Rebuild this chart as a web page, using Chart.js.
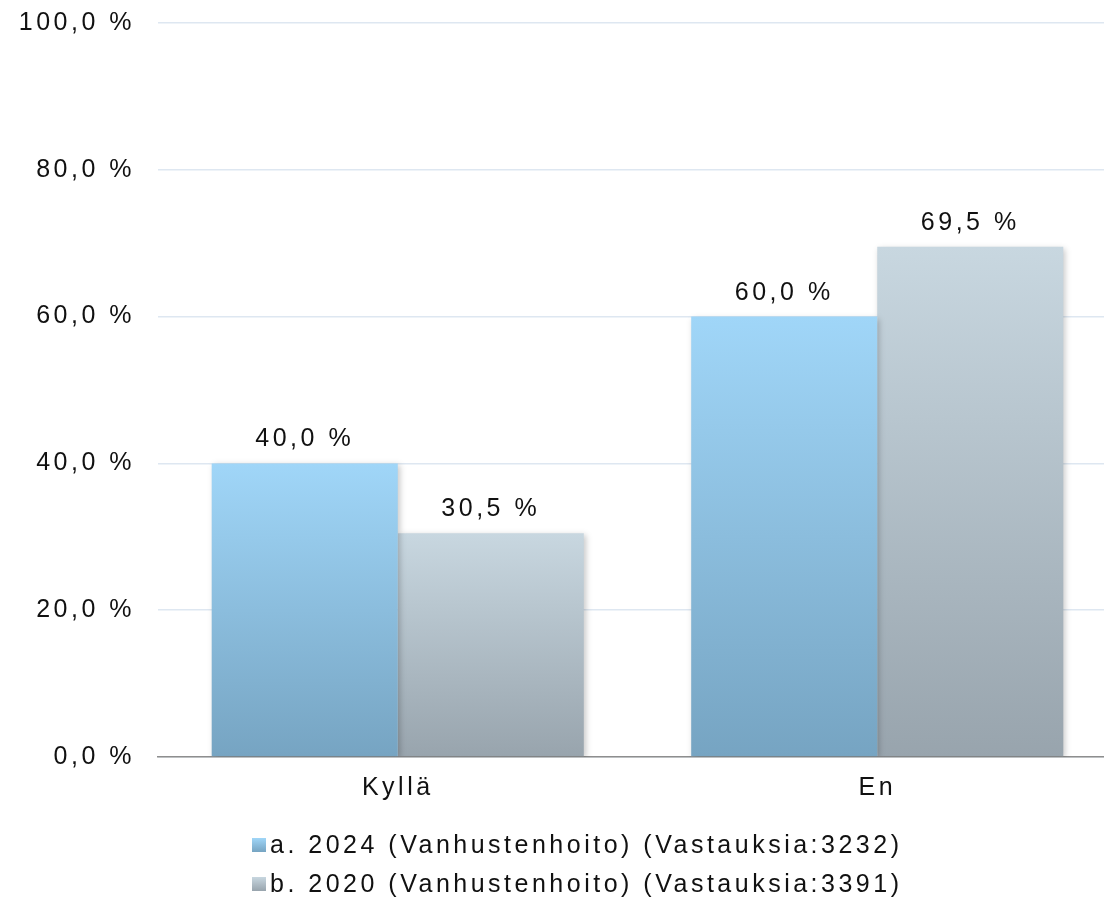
<!DOCTYPE html>
<html lang="fi">
<head>
    <meta charset="UTF-8">
    <title>Kyllä / En</title>
    <script src="https://cdn.jsdelivr.net/npm/chart.js@4.4.1/dist/chart.umd.min.js"></script>
    <style>
        html, body { margin: 0; padding: 0; background: #fff; overflow: hidden; }
        #wrap { width: 1104px; height: 904px; overflow: hidden; }
    </style>
</head>
<body>
<div id="wrap">
    <!-- a bit wider than the window: the plot runs past the right edge, as in the source image -->
    <canvas id="chart" width="1117" height="904"></canvas>
</div>
<script>
    const categories = ['Kyllä', 'En'];
    const seriesNames = [
        'a. 2024 (Vanhustenhoito) (Vastauksia:3232)',
        'b. 2020 (Vanhustenhoito) (Vastauksia:3391)'
    ];
    const values2024 = [40.0, 60.0];
    const values2020 = [30.5, 69.5];
    const yTicks = [0, 20, 40, 60, 80, 100];

    const FONT = '"Liberation Sans", Arial, sans-serif';
    const SIZE = 25;
    const SPACING = '3.5px';
    // top/bottom colours of the bar gradients
    const blueStops = ['#a0d6f8', '#76a4c2'];
    const grayStops = ['#c8d7e0', '#98a4ad'];

    function pct(v) {
        return v.toFixed(1).replace('.', ',') + ' %';
    }

    function barGradient(stops) {
        return function (context) {
            const chart = context.chart;
            const y = chart.scales.y;
            if (!y || context.raw === undefined) return stops[0];
            const top = y.getPixelForValue(context.raw);
            const bottom = y.getPixelForValue(0);
            if (!isFinite(top) || !isFinite(bottom) || top === bottom) return stops[0];
            const g = chart.ctx.createLinearGradient(0, top, 0, bottom);
            g.addColorStop(0, stops[0]);
            g.addColorStop(1, stops[1]);
            return g;
        };
    }

    function setSpacing(chart) {
        chart.ctx.letterSpacing = SPACING;
    }

    const spacingPlugin = {
        id: 'spacing',
        beforeUpdate: setSpacing,
        beforeLayout: setSpacing,
        beforeDraw: setSpacing,
        afterResize: setSpacing
    };

    const shadowPlugin = {
        id: 'barShadow',
        beforeDatasetsDraw(chart) {
            const ctx = chart.ctx;
            ctx.save();
            ctx.shadowColor = 'rgba(0,0,0,0.22)';
            ctx.shadowBlur = 6;
            ctx.shadowOffsetX = 2;
            ctx.shadowOffsetY = 2;
        },
        afterDatasetsDraw(chart) {
            chart.ctx.restore();
        }
    };

    const valueLabels = {
        id: 'valueLabels',
        afterDatasetsDraw(chart) {
            const ctx = chart.ctx;
            ctx.save();
            ctx.letterSpacing = SPACING;
            ctx.font = SIZE + 'px ' + FONT;
            ctx.fillStyle = '#111';
            ctx.textAlign = 'center';
            ctx.textBaseline = 'alphabetic';
            chart.data.datasets.forEach((ds, i) => {
                chart.getDatasetMeta(i).data.forEach((bar, j) => {
                    ctx.fillText(pct(ds.data[j]), bar.x, bar.y - 17);
                });
            });
            ctx.restore();
        }
    };

    const stackedLegend = {
        id: 'stackedLegend',
        afterDraw(chart) {
            const ctx = chart.ctx;
            const stops = [blueStops, grayStops];
            const rows = [845, 884];
            ctx.save();
            ctx.letterSpacing = SPACING;
            ctx.font = SIZE + 'px ' + FONT;
            ctx.textAlign = 'left';
            ctx.textBaseline = 'middle';
            chart.data.datasets.forEach((ds, i) => {
                const y = rows[i];
                const g = ctx.createLinearGradient(0, y - 7, 0, y + 7);
                g.addColorStop(0, stops[i][0]);
                g.addColorStop(1, stops[i][1]);
                ctx.fillStyle = g;
                ctx.fillRect(252, y - 7, 14, 14);
                ctx.fillStyle = '#111';
                ctx.fillText(ds.label, 270, y + 1);
            });
            ctx.restore();
        }
    };

    const ctx = document.getElementById('chart').getContext('2d');
    const chart = new Chart(ctx, {
        type: 'bar',
        data: {
            labels: categories,
            datasets: [
                {
                    label: seriesNames[0],
                    data: values2024,
                    backgroundColor: barGradient(blueStops),
                    borderWidth: 0
                },
                {
                    label: seriesNames[1],
                    data: values2020,
                    backgroundColor: barGradient(grayStops),
                    borderWidth: 0
                }
            ]
        },
        options: {
            responsive: false,
            animation: false,
            devicePixelRatio: 1,
            layout: {
                padding: { top: 23, right: 0, bottom: 93, left: 0 }
            },
            datasets: {
                bar: { categoryPercentage: 0.776, barPercentage: 1.0 }
            },
            scales: {
                x: {
                    grid: { display: false },
                    border: { display: true, color: '#8e8e8e', width: 1.5 },
                    ticks: {
                        color: '#111',
                        padding: 8,
                        font: { family: FONT, size: SIZE }
                    }
                },
                y: {
                    min: 0,
                    max: 100,
                    afterFit(scale) {
                        scale.width = 158;
                        scale.paddingTop = 0;
                        scale.paddingBottom = 0;
                    },
                    afterBuildTicks(scale) {
                        scale.ticks = yTicks.map(v => ({ value: v }));
                    },
                    grid: { color: '#dee7f1', lineWidth: 1.5, drawTicks: false },
                    border: { display: false },
                    ticks: {
                        color: '#111',
                        padding: 23,
                        font: { family: FONT, size: SIZE },
                        callback: v => pct(v)
                    }
                }
            },
            plugins: {
                legend: { display: false },
                tooltip: { enabled: false }
            }
        },
        plugins: [spacingPlugin, shadowPlugin, valueLabels, stackedLegend]
    });
</script>
</body>
</html>
